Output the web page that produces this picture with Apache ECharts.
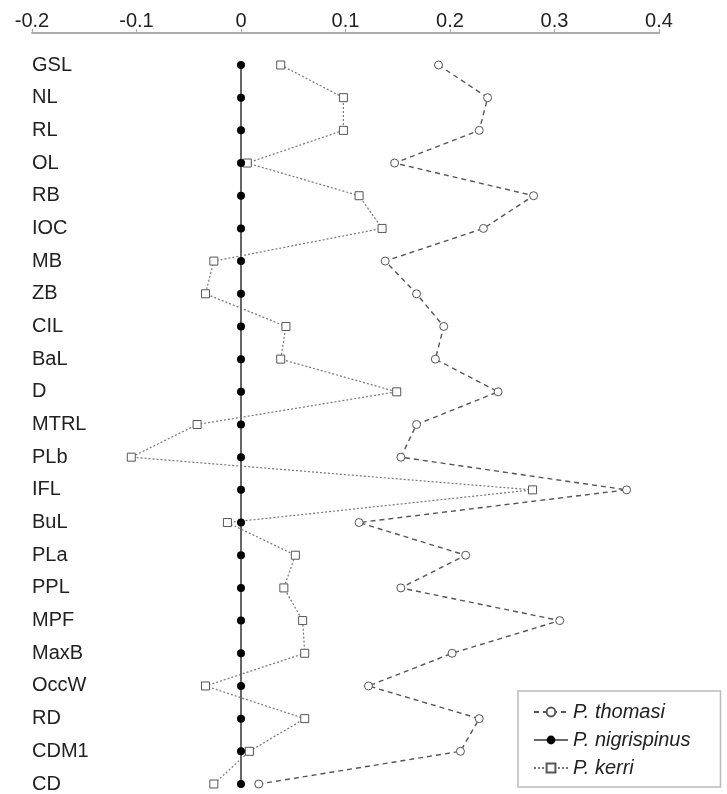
<!DOCTYPE html>
<html>
<head>
<meta charset="utf-8">
<script src="https://cdn.jsdelivr.net/npm/echarts@6/dist/echarts.min.js"></script>
<style>html,body{margin:0;padding:0;background:#fff}#c{width:727px;height:794px}</style>
</head>
<body>
<div id="c"></div>
<script>
var categories = ['GSL','NL','RL','OL','RB','IOC','MB','ZB','CIL','BaL','D','MTRL','PLb','IFL','BuL','PLa','PPL','MPF','MaxB','OccW','RD','CDM1','CD'];
var thomasi = [0.189,0.236,0.228,0.147,0.280,0.232,0.138,0.168,0.194,0.186,0.246,0.168,0.153,0.369,0.113,0.215,0.153,0.305,0.202,0.122,0.228,0.210,0.017];
var nigrispinus = [0,0,0,0,0,0,0,0,0,0,0,0,0,0,0,0,0,0,0,0,0,0,0];
var kerri = [0.038,0.098,0.098,0.006,0.113,0.135,-0.026,-0.034,0.043,0.038,0.149,-0.042,-0.105,0.279,-0.013,0.052,0.041,0.059,0.061,-0.034,0.061,0.008,-0.026];
var xTicks = {min: -0.2, max: 0.4, interval: 0.1};

var FONT = 'Liberation Sans';
var chart = echarts.init(document.getElementById('c'), null, {renderer: 'canvas'});
chart.setOption({
  animation: false,
  backgroundColor: '#fff',
  grid: {left: 32, right: 68, top: 65, bottom: 6, containLabel: false},
  xAxis: {
    type: 'value', position: 'top', offset: 32,
    min: xTicks.min, max: xTicks.max, interval: xTicks.interval,
    axisLine: {show: true, onZero: false, lineStyle: {color: '#aaa', width: 2}},
    axisTick: {show: true, length: 4, lineStyle: {color: '#aaa', width: 1}},
    splitLine: {show: false},
    axisLabel: {color: '#222', fontFamily: FONT, fontSize: 20, margin: 2,
      formatter: function (v) { return Math.abs(v) < 1e-9 ? '0' : String(+v.toFixed(1)); }}
  },
  yAxis: {
    type: 'category', data: categories, inverse: true, boundaryGap: false,
    axisLine: {show: false}, axisTick: {show: false}, splitLine: {show: false},
    axisLabel: {inside: true, margin: 0, color: '#222', fontFamily: FONT, fontSize: 20, align: 'left', padding: [3, 0, 0, 0]}
  },
  legend: {
    orient: 'vertical', left: 518, top: 691,
    padding: [11, 30, 9, 15], itemGap: 8, itemWidth: 34, itemHeight: 11, itemTextGap: 3,
    borderColor: '#bbb', borderWidth: 1.5, borderRadius: 0,
    textStyle: {fontFamily: FONT, fontSize: 20, fontStyle: 'italic', color: '#222'},
    data: ['P. thomasi', 'P. nigrispinus', 'P. kerri']
  },
  series: [
    {
      name: 'P. thomasi', type: 'line', data: thomasi, z: 3,
      symbol: 'circle', symbolSize: 8, showSymbol: true,
      lineStyle: {color: '#555', width: 1.4, type: [5, 4]},
      itemStyle: {color: '#fff', borderColor: '#555', borderWidth: 1}
    },
    {
      name: 'P. kerri', type: 'line', data: kerri, z: 4,
      symbol: 'rect', symbolSize: 8, showSymbol: true,
      lineStyle: {color: '#777', width: 1.2, type: [2, 2]},
      itemStyle: {color: '#fff', borderColor: '#555', borderWidth: 1}
    },
    {
      name: 'P. nigrispinus', type: 'line', data: nigrispinus, z: 5,
      symbol: 'circle', symbolSize: 8, showSymbol: true,
      lineStyle: {color: '#666', width: 2},
      itemStyle: {color: '#000', borderColor: '#000', borderWidth: 0}
    }
  ]
});
</script>
</body>
</html>
